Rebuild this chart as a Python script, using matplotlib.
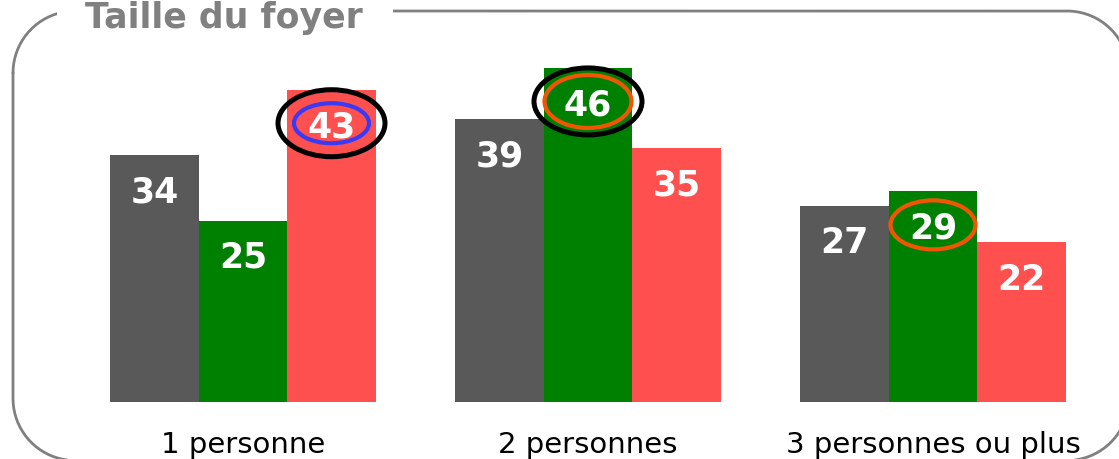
import matplotlib
matplotlib.use("Agg")
import matplotlib.pyplot as plt
from matplotlib.patches import Ellipse, Rectangle
import numpy as np

# household size survey, three series per group
categories = ["1 personne", "2 personnes", "3 personnes ou plus"]
serie_gris = [34, 39, 27]
serie_vert = [25, 46, 29]
serie_rouge = [43, 35, 22]
titre = "Taille du foyer"

# highlighted values: (series index, group index, colour, w px, h px, lw)
surlignes = [
    (2, 0, "black", 107, 67, 3.6),
    (2, 0, "#3a3af5", 75, 40, 3.0),
    (1, 1, "black", 108, 67, 3.6),
    (1, 1, "#f25500", 87, 53, 3.0),
    (1, 2, "#f25500", 85, 49, 3.0),
]

W, H = 1119, 460
PX_X = 345.0     # pixels per group step
PX_Y = 7.26      # pixels per unit
BASE = 403       # baseline, pixels from top

fig = plt.figure(figsize=(W / 100, H / 100), dpi=100)

# background axes in pixel units for the rounded frame
bg = fig.add_axes([0, 0, 1, 1], zorder=0)
bg.set_xlim(0, W)
bg.set_ylim(H, 0)
bg.axis("off")

def rounded_frame(x0, y0, x1, y1, r, n=40):
    t = np.linspace(0, np.pi / 2, n)
    pts = []
    # top-left, top-right, bottom-right, bottom-left corners
    pts += list(zip(x0 + r - r * np.cos(t), y0 + r - r * np.sin(t)))
    pts += list(zip(x1 - r + r * np.sin(t), y0 + r - r * np.cos(t)))
    pts += list(zip(x1 - r + r * np.cos(t), y1 - r + r * np.sin(t)))
    pts += list(zip(x0 + r - r * np.sin(t), y1 - r + r * np.cos(t)))
    pts.append(pts[0])
    return np.array(pts)

fr = rounded_frame(13, 12, 1129, 461.5, 62)
bg.plot(fr[:, 0], fr[:, 1], color="#808080", lw=2.0, solid_capstyle="round")
bg.add_patch(Rectangle((57, -5), 393 - 57, 30, facecolor="white",
                       edgecolor="none", zorder=3))
bg.text(85, 18, titre, ha="left", va="center", color="#808080",
        fontsize=25, fontweight="bold", zorder=4)

ax = fig.add_axes([0, (H - BASE) / H, 1, BASE / H], zorder=1)
ax.patch.set_alpha(0)
ax.set_xlim(-243 / PX_X, (W - 243) / PX_X)
ax.set_ylim(0, BASE / PX_Y)

series = [serie_gris, serie_vert, serie_rouge]
couleurs = ["#595959", "#008000", "#ff5050"]
largeur = 88.5 / PX_X
x = np.arange(len(categories))
offset_label = 5.0

for i, (vals, c) in enumerate(zip(series, couleurs)):
    xs = x + (i - 1) * largeur
    ax.bar(xs, vals, width=largeur, color=c, edgecolor="none")
    for xi, v in zip(xs, vals):
        ax.text(xi, v - offset_label, str(v), ha="center", va="center",
                color="white", fontsize=25, fontweight="bold")

for s, g, col, wpx, hpx, lw in surlignes:
    cx = x[g] + (s - 1) * largeur
    cy = series[s][g] - offset_label + 0.4
    ax.add_patch(Ellipse((cx, cy), wpx / PX_X, hpx / PX_Y, fill=False,
                         edgecolor=col, lw=lw, zorder=5))

ax.set_xticks(x)
ax.set_xticklabels(categories, fontsize=21, color="black")
ax.tick_params(axis="x", length=0, pad=20)
ax.set_yticks([])
for sp in ax.spines.values():
    sp.set_visible(False)

fig.savefig("out.png", dpi=100)
